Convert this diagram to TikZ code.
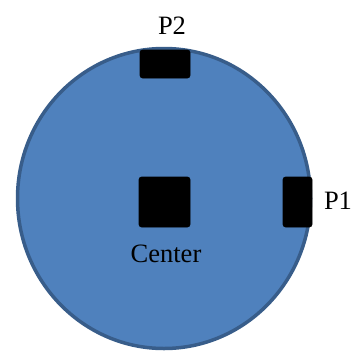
\documentclass[tikz,border=0pt]{standalone}
\usepackage{fontspec}
\setmainfont{Liberation Serif}
\begin{document}
\begin{tikzpicture}[x=1pt,y=-1pt,
  pad/.style={fill=black,draw=black,line width=0.6pt,rounded corners=2.5pt,inner sep=0pt},
  lbl/.style={font=\fontsize{26.5}{30}\selectfont,inner sep=0pt,anchor=base}]
  \useasboundingbox (0,0) rectangle (355,351);
  % disc
  \draw[fill={rgb,255:red,79;green,129;blue,189},draw={rgb,255:red,56;green,93;blue,138},line width=3.5pt]
    (164,198.5) ellipse [x radius=146.5, y radius=150];
  % pads
  \node[pad,minimum width=50,minimum height=28] (p2) at (165,64) {};
  \node[pad,minimum width=29,minimum height=50] (p1) at (297.5,202) {};
  \node[pad,minimum width=51,minimum height=50] (c) at (164.5,202) {};
  % labels
  \node[lbl] (p2l) at (172,34) {P2};
  \node[lbl] (p1l) at (338,209) {P1};
  \node[lbl] (cl) at (166,262) {Center};
\end{tikzpicture}
\end{document}
